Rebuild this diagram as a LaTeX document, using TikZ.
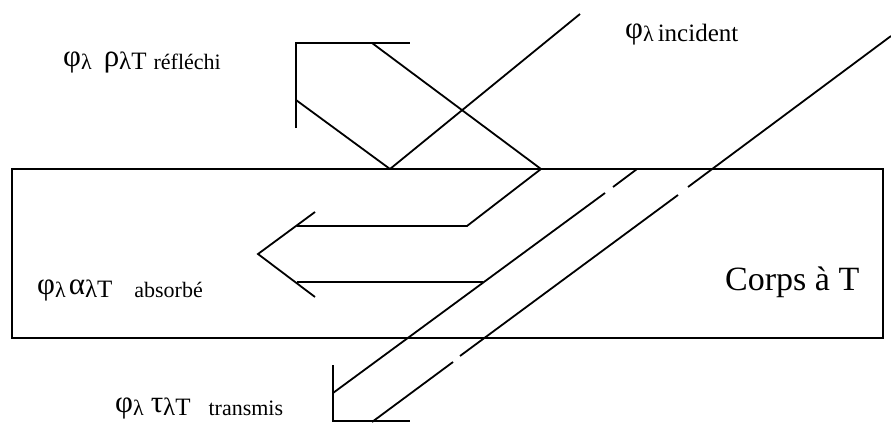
\documentclass[tikz,border=0pt]{standalone}
\usepackage{fontspec}
\setmainfont{Liberation Serif}
\newcommand{\gk}[1]{{\fontsize{31}{33}\selectfont #1}}
\newcommand{\ind}[1]{\raisebox{-3pt}{\fontsize{22}{24}\selectfont #1}}
\newcommand{\lT}{{\fontsize{25}{27}\selectfont λT}}
\begin{document}
\begin{tikzpicture}[x=1pt,y=-1pt,
    ray/.style={line width=1.8pt},
    body/.style={draw,line width=2.2pt},
    lbl/.style={anchor=base west,inner sep=0pt}
]
\useasboundingbox (0,0) rectangle (891,423);
% le corps
\draw[body] (12,169) rectangle (883,338);
\node[lbl,font=\fontsize{34}{36}\selectfont] (corps) at (725,290) {Corps à T};
% rayons incidents
\draw[ray] (580,14) -- (390,169);
\draw[ray] (891,36) -- (688,187);
\draw[ray] (678,195) -- (460,356);
\draw[ray] (453,362) -- (372,422);
% reflechi
\draw[ray] (390,169) -- (296,100);
\draw[ray] (541,169) -- (372,43);
\draw[ray] (296,128) -- (296,43) -- (410,43);
% absorbe
\draw[ray] (541,169) -- (467,226) -- (297,226);
\draw[ray] (483,282) -- (297,282);
\draw[ray] (315,212) -- (258,254) -- (315,297);
% transmis
\draw[ray] (637,169) -- (613,187);
\draw[ray] (605,193) -- (333,393);
\draw[ray] (333,365) -- (333,421) -- (410,421);
% textes
\node[lbl] (inc) at (625,38) {\gk{φ}\ind{λ}\hspace{4pt}\ind{\fontsize{25}{26}\selectfont incident}};
\node[lbl] (refl) at (63,66) {\gk{φ}\ind{λ}\hspace{12pt}\gk{ρ}\ind{\lT}\hspace{7pt}\ind{réfléchi}};
\node[lbl] (abs) at (37,294) {\gk{φ}\ind{λ}\hspace{3pt}\gk{α}\ind{\lT}\hspace{22pt}\ind{absorbé}};
\node[lbl] (trans) at (115,412) {\gk{φ}\ind{λ}\hspace{7pt}\gk{τ}\ind{\lT}\hspace{18pt}\ind{transmis}};
\end{tikzpicture}
\end{document}
